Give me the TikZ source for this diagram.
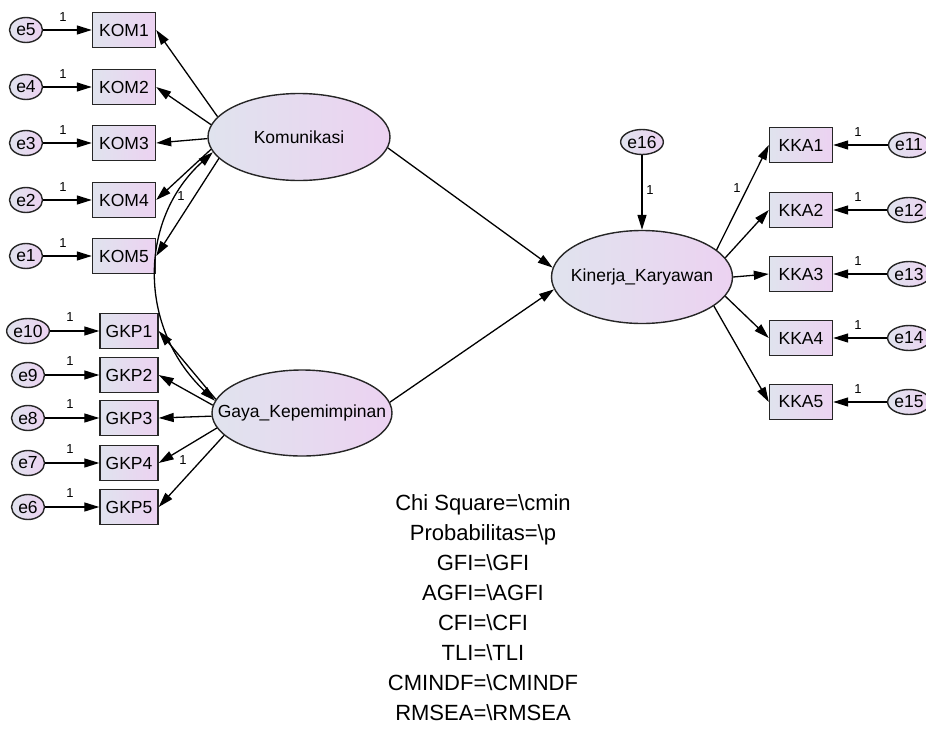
\documentclass[tikz,border=0pt]{standalone}
\usepackage{fontspec}
\setmainfont{Liberation Sans}
\usetikzlibrary{arrows.meta,shapes.geometric}
\definecolor{semblue}{HTML}{E0E3EE}
\definecolor{sempink}{HTML}{ECD2F1}

\begin{document}
\begin{tikzpicture}[x=1pt,y=-1pt,
  latent/.style={ellipse,draw=black!85,line width=1.4pt,left color=semblue,
    right color=sempink,inner sep=0pt,font=\fontsize{17.5}{20}\selectfont},
  obs/.style={rectangle,draw=black!85,line width=1.4pt,left color=semblue,
    right color=sempink,minimum height=35pt,inner sep=0pt,
    font=\fontsize{17.5}{20}\selectfont},
  err/.style={ellipse,draw=black!85,line width=1.4pt,left color=semblue,
    right color=sempink,minimum height=25pt,minimum width=33pt,inner sep=0.5pt,
    font=\fontsize{17.5}{20}\selectfont},
  arr/.style={line width=1.3pt,-{Triangle[length=15pt,width=9pt]}},
  covar/.style={line width=1.3pt,
    {Triangle[length=15pt,width=9pt]}-{Triangle[length=15pt,width=9pt]}},
  one/.style={font=\fontsize{13}{15}\selectfont,inner sep=0pt},
  stats/.style={align=center,font=\fontsize{22}{30}\selectfont}
]
\useasboundingbox (0,0) rectangle (926,731);

% latent variables
\node[latent,minimum width=182pt,minimum height=87pt] (komunikasi) at (299,137)
  {\makebox[0pt]{Komunikasi}};
\node[latent,minimum width=180pt,minimum height=86pt] (gaya) at (302,413)
  {\makebox[0pt]{Gaya\_Kepemimpinan}};
\node[latent,minimum width=181pt,minimum height=93pt] (kinerja) at (642,277)
  {\makebox[0pt]{Kinerja\_Karyawan}};

% indicators with their error terms
\foreach \i/\en/\y in {1/5/30,2/4/87,3/3/143,4/2/200,5/1/256}{
  \node[obs,minimum width=63pt] (kom\i) at (124,\y) {KOM\i};
  \node[err] (e\en) at (26,\y) {e\en};
  \draw[arr] (e\en) -- (kom\i);
  \node[one] at (63,\y-13) {1};
}
\foreach \i/\en/\y in {1/10/331,2/9/375,3/8/418,4/7/463,5/6/507}{
  \node[obs,minimum width=58pt] (gkp\i) at (129,\y) {GKP\i};
  \node[err] (e\en) at (28,\y) {e\en};
  \draw[arr] (e\en) -- (gkp\i);
  \node[one] at (70,\y-14) {1};
}
\foreach \i/\en/\y in {1/11/145,2/12/210,3/13/274,4/14/338,5/15/402}{
  \node[obs,minimum width=63pt] (kka\i) at (801,\y) {KKA\i};
  \node[err] (e\en) at (909,\y) {e\en};
  \draw[arr] (e\en) -- (kka\i);
  \node[one] at (858,\y-13) {1};
}

% loadings
\foreach \i/\a in {1/166,2/172,3/181,4/188,5/195}
  \draw[arr] (komunikasi.\a) -- (kom\i.east);
\foreach \i/\a in {1/171,2/175,3/182,4/190,5/196}
  \draw[arr] (gaya.\a) -- (gkp\i.east);
\foreach \i/\a in {1/20,2/13,3/0,4/347,5/338}
  \draw[arr] (kinerja.\a) -- (kka\i.west);
\node[one] at (181,196) {1};
\node[one] at (183,460) {1};
\node[one] at (737,188) {1};

% structural paths
\draw[arr] (komunikasi.353) -- (kinerja.174);
\draw[arr] (gaya.7) -- (kinerja.188);
\node[err] (e16) at (642,142) {e16};
\draw[arr] (e16) -- (kinerja);
\node[one] at (650,190) {1};

% covariance
\draw[covar] (komunikasi.190) .. controls (138,220) and (138,328) .. (gaya.172);

% fit indices
\node[stats] (fit) at (483,608) {Chi Square=\textbackslash cmin\\
  Probabilitas=\textbackslash p\\ GFI=\textbackslash GFI\\
  AGFI=\textbackslash AGFI\\ CFI=\textbackslash CFI\\ TLI=\textbackslash TLI\\
  CMINDF=\textbackslash CMINDF\\ RMSEA=\textbackslash RMSEA};
\end{tikzpicture}
\end{document}
